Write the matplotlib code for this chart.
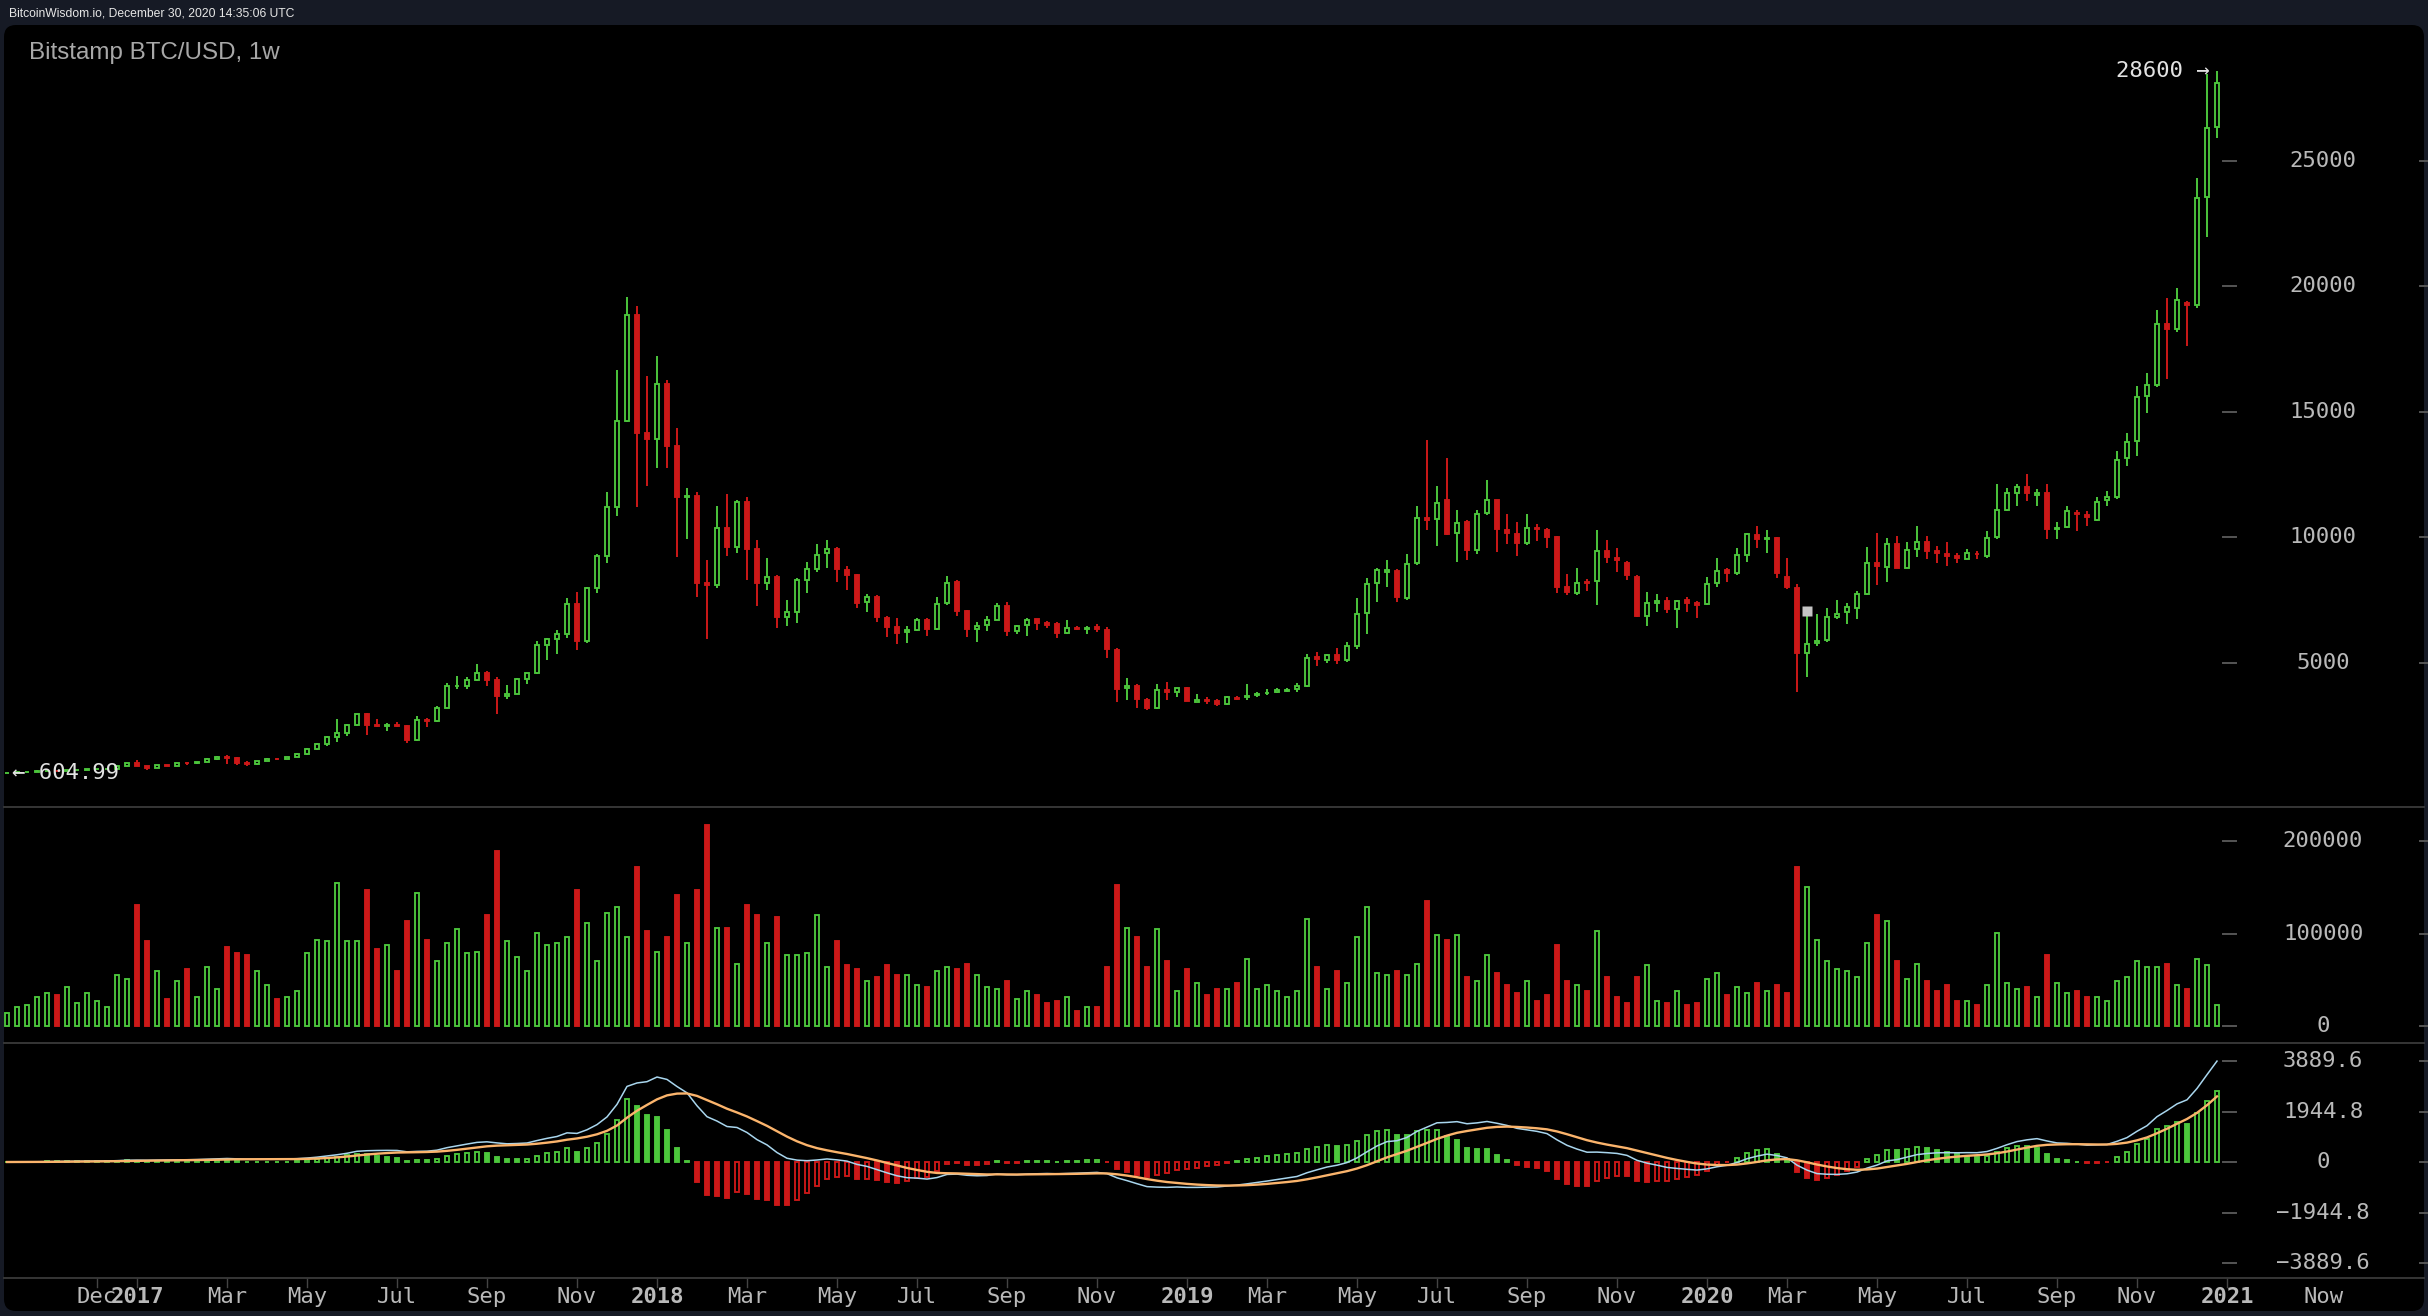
import numpy as np
import matplotlib
matplotlib.use('Agg')
import matplotlib.pyplot as plt
import matplotlib.transforms as mtransforms
from matplotlib.patches import FancyBboxPatch
from matplotlib.lines import Line2D

# ---------------- data (weekly candles, Bitstamp BTC/USD) ----------------
start_date = '2016-10-03'

opens = [
    610, 616, 638, 653, 700, 711, 702, 735, 740, 765,
    776, 790, 895, 998, 903, 820, 920, 912, 1020, 997,
    1052, 1180, 1270, 1230, 1020, 960, 1085, 1180, 1170, 1250,
    1355, 1560, 1770, 2050, 2200, 2510, 2950, 2530, 2500, 2520,
    2505, 1930, 2730, 2700, 3200, 4070, 4090, 4340, 4590, 4330,
    3700, 3780, 4370, 4600, 5700, 5950, 6143, 7339, 5861, 7976,
    9275, 11227, 14653, 18865, 14163, 13924, 16116, 13660, 11610, 11650,
    8187, 8100, 10378, 9622, 11414, 9542, 8173, 8439, 6845, 7020,
    8307, 8745, 9400, 9560, 8700, 8506, 7418, 7642, 6800, 6420,
    6248, 6315, 6713, 6343, 7403, 8215, 7084, 6343, 6514, 6713,
    7271, 6262, 6500, 6740, 6582, 6540, 6184, 6410, 6350, 6447,
    6315, 5518, 4000, 4084, 3526, 3195, 3924, 3857, 4017, 3458,
    3540, 3498, 3367, 3620, 3632, 3712, 3790, 3860, 3870, 3952,
    4084, 5227, 5120, 5319, 5120, 5690, 6979, 8187, 8640, 8678,
    7578, 8970, 10780, 10725, 11494, 10167, 10605, 9502, 10964, 11494,
    10299, 10126, 9768, 10392, 10299, 10007, 8040, 7801, 8210, 8267,
    9474, 9200, 9000, 8439, 6885, 7403, 7483, 7151, 7500, 7380,
    7340, 8200, 8705, 8572, 9302, 10100, 9930, 9968, 8439, 7976,
    5386, 5800, 5920, 6840, 7017, 7200, 7750, 8965, 8835, 9744,
    8803, 9560, 9825, 9450, 9330, 9250, 9159, 9360, 9257, 10020,
    11107, 11756, 12000, 11700, 11756, 10344, 10426, 10993, 10880, 10701,
    11480, 11594, 13152, 13833, 15619, 16057, 18508, 18297, 19352, 19271,
    23572, 26363]

highs = [
    620, 645, 657, 720, 745, 745, 755, 750, 778, 780,
    795, 935, 1000, 1150, 910, 925, 925, 1030, 1065, 1060,
    1200, 1290, 1330, 1260, 1080, 1100, 1210, 1210, 1270, 1420,
    1620, 1830, 2100, 2760, 2550, 2980, 2990, 2750, 2600, 2660,
    2530, 2900, 2800, 3290, 4190, 4480, 4460, 4980, 4700, 4430,
    4120, 4400, 4620, 5860, 6000, 6315, 7578, 7843, 8040, 9329,
    11800, 16673, 19593, 19223, 16434, 17230, 16275, 14363, 11970, 11810,
    9100, 11255, 11733, 11494, 11625, 9900, 9170, 8500, 7510, 8374,
    9012, 9729, 9900, 9620, 8864, 8545, 7749, 7700, 6872, 6780,
    6474, 6805, 6780, 7642, 8466, 8307, 7112, 6622, 6872, 7378,
    7418, 6500, 6805, 6760, 6673, 6622, 6713, 6474, 6474, 6554,
    6420, 5600, 4391, 4150, 3620, 4163, 4255, 4020, 4050, 3765,
    3632, 3560, 3700, 3680, 4163, 3857, 3952, 3990, 3990, 4200,
    5358, 5451, 5358, 5610, 5825, 7578, 8374, 8770, 9103, 8732,
    9342, 11255, 13890, 12052, 13155, 11096, 10710, 11096, 12291, 11500,
    10936, 10618, 10936, 10538, 10379, 10060, 8545, 8770, 8346, 10299,
    9900, 9569, 9050, 8500, 7816, 7736, 7642, 7510, 7642, 7483,
    8439, 9170, 8770, 9569, 10180, 10459, 10299, 10000, 9170, 8160,
    7112, 6939, 7178, 7500, 7374, 7861, 9614, 10182, 9987, 10068,
    9825, 10474, 10068, 9663, 9825, 9370, 9533, 9452, 10263, 12130,
    11967, 12130, 12535, 11918, 12130, 10620, 11237, 11100, 11042, 11594,
    11837, 13428, 14158, 16025, 16544, 19076, 19546, 19952, 19420, 24335,
    28473, 28600]

lows = [
    604.99, 613, 628, 650, 682, 696, 698, 724, 728, 752,
    767, 788, 880, 880, 750, 818, 880, 905, 930, 978,
    1048, 1140, 975, 945, 890, 930, 1080, 1150, 1160, 1240,
    1340, 1540, 1700, 1850, 2100, 2480, 2150, 2470, 2300, 2470,
    1830, 1890, 2460, 2650, 3200, 3950, 3960, 4300, 4100, 2980,
    3560, 3750, 4160, 4560, 5100, 5360, 6010, 5518, 5800, 7776,
    8972, 10870, 14600, 11215, 12064, 12780, 12780, 9223, 9940, 7628,
    5956, 8000, 9275, 9382, 8307, 7283, 7900, 6407, 6490, 6582,
    7776, 8637, 8797, 8240, 7908, 7203, 7044, 6646, 6049, 5745,
    5785, 6275, 6076, 6300, 7300, 6872, 6024, 5849, 6275, 6700,
    6076, 6155, 6076, 6315, 6384, 6010, 6150, 6315, 6155, 6248,
    5187, 3458, 3526, 3220, 3127, 3150, 3526, 3632, 3480, 3440,
    3367, 3287, 3330, 3520, 3540, 3659, 3725, 3791, 3857, 3857,
    4050, 4880, 4988, 4960, 5052, 5546, 6155, 7442, 8015, 7442,
    7500, 8900, 10299, 9669, 10100, 9036, 9103, 9342, 10900, 9436,
    9749, 9275, 9700, 9842, 9593, 7776, 7710, 7700, 7868, 7310,
    8972, 8637, 8307, 6820, 6488, 7044, 6978, 6407, 7044, 6805,
    7300, 8040, 8240, 8500, 9036, 9593, 9370, 8400, 7950, 3857,
    4427, 5690, 5850, 6760, 6550, 6760, 7700, 8120, 8220, 8770,
    8770, 9208, 9127, 8965, 8884, 8965, 9159, 9127, 9200, 9950,
    11042, 11237, 11448, 11237, 9938, 9938, 10380, 10263, 10474, 10650,
    11269, 11550, 12860, 13266, 14970, 16000, 16301, 18200, 17648, 19150,
    21981, 25925]

closes = [
    616, 638, 653, 700, 711, 702, 735, 740, 765, 776,
    790, 895, 998, 903, 820, 920, 912, 1020, 997, 1052,
    1180, 1270, 1230, 1020, 960, 1085, 1180, 1170, 1250, 1355,
    1560, 1770, 2050, 2200, 2510, 2950, 2530, 2500, 2520, 2505,
    1930, 2730, 2700, 3200, 4070, 4090, 4340, 4590, 4330, 3700,
    3780, 4370, 4600, 5700, 5950, 6143, 7339, 5861, 7976, 9275,
    11227, 14653, 18865, 14163, 13924, 16116, 13660, 11610, 11650, 8187,
    8100, 10378, 9622, 11414, 9542, 8173, 8439, 6845, 7020, 8307,
    8745, 9302, 9560, 8732, 8506, 7378, 7642, 6820, 6447, 6184,
    6315, 6713, 6343, 7339, 8200, 7084, 6343, 6474, 6713, 7283,
    6262, 6474, 6713, 6582, 6500, 6200, 6384, 6370, 6390, 6360,
    5546, 3952, 4084, 3554, 3195, 3924, 3857, 3990, 3498, 3526,
    3500, 3367, 3632, 3560, 3685, 3765, 3820, 3910, 3930, 4084,
    5187, 5147, 5319, 5120, 5690, 6952, 8160, 8705, 8690, 7617,
    8944, 10765, 10700, 11387, 10139, 10590, 9502, 10925, 11494, 10326,
    10167, 9768, 10366, 10339, 10007, 8015, 7841, 8200, 8170, 9462,
    9209, 9100, 8497, 6885, 7403, 7483, 7151, 7470, 7400, 7330,
    8147, 8678, 8572, 9302, 10126, 9928, 9968, 8572, 8015, 5386,
    5745, 5880, 6840, 6936, 7212, 7750, 8965, 8880, 9744, 8803,
    9500, 9825, 9452, 9400, 9270, 9200, 9370, 9330, 9987, 11107,
    11756, 12000, 11756, 11790, 10344, 10393, 11042, 10945, 10831, 11432,
    11594, 13103, 13801, 15586, 16057, 18508, 18300, 19465, 19250, 23523,
    26298, 28116]

volumes_k = [
    14.4, 20.9, 23, 31.7, 36, 33.9, 42.5, 25, 36, 27.4,
    20.9, 55.5, 51, 131, 92, 60, 29.5, 49, 62, 31.7,
    64, 40, 86, 79, 77, 60, 44.7, 29.5, 31.7, 38,
    79, 94, 92, 155, 92, 92, 148, 84, 88, 60,
    114, 144, 94, 71, 90, 105, 79, 81, 120, 190,
    92, 75, 60, 101, 88, 90, 97, 148, 112, 71,
    122.5, 129, 97, 172, 103, 81, 97, 142, 90, 148,
    218, 107, 107, 68, 131, 120, 90, 118, 77, 77,
    79, 120, 64, 92, 66, 62, 49, 53, 66, 55.5,
    55.5, 44.7, 42.5, 60, 64, 62, 68, 55.5, 42.5, 40,
    49, 29.5, 38, 34, 25, 27.4, 31.7, 16.6, 20.9, 20.9,
    64, 153, 107, 97, 64, 105, 71, 38, 62, 47,
    34, 40, 40, 47, 73, 40, 44.7, 38, 31.7, 38,
    116, 64, 40, 60, 47, 97, 129, 58, 55.5, 60,
    55.5, 68, 135.5, 99, 94, 99, 53, 49, 77, 58,
    44.7, 36, 49, 27.4, 34, 88, 49, 44.7, 38, 103,
    53, 31.7, 25, 53, 66, 27.4, 25, 38, 23, 25,
    51, 58, 34, 42.5, 36, 47, 38, 44.7, 36, 172,
    151, 94, 71, 62, 60, 53, 90, 120, 114, 71,
    51, 68, 49, 38, 44.7, 27.4, 27.4, 23, 44.7, 101,
    47, 40, 42.5, 31.7, 77, 47, 36, 38, 31.7, 31.7,
    27.4, 49, 53, 71, 64, 64, 68, 44.7, 40, 73,
    66, 23]

price_ticks = [5000, 10000, 15000, 20000, 25000]
volume_ticks = [0, 100000, 200000]
macd_ticks = [3889.6, 1944.8, 0, -1944.8, -3889.6]
macd_tick_labels = ['3889.6', '1944.8', '0', '\u22121944.8', '\u22123889.6']

tick_months = ['2016-12', '2017-01', '2017-03', '2017-05', '2017-07', '2017-09', '2017-11',
               '2018-01', '2018-03', '2018-05', '2018-07', '2018-09', '2018-11',
               '2019-01', '2019-03', '2019-05', '2019-07', '2019-09', '2019-11',
               '2020-01', '2020-03', '2020-05', '2020-07', '2020-09', '2020-11', '2021-01']
tick_labels = ['Dec', '2017', 'Mar', 'May', 'Jul', 'Sep', 'Nov',
               '2018', 'Mar', 'May', 'Jul', 'Sep', 'Nov',
               '2019', 'Mar', 'May', 'Jul', 'Sep', 'Nov',
               '2020', 'Mar', 'May', 'Jul', 'Sep', 'Nov', '2021']

marker_week = 180
marker_price = 7070

header_text = 'BitcoinWisdom.io, December 30, 2020 14:35:06 UTC'
title_text = 'Bitstamp BTC/USD, 1w'

# ---------------- styling ----------------
GREEN = '#4cc63c'
RED = '#cc1818'
BG_OUT = '#161a25'
TXT = '#b9b9b9'
TXT_HI = '#e2e2e2'
SEP = '#3a3a3a'
TICKC = '#555555'
MONO = 'DejaVu Sans Mono'

W, H = 2428, 1316
fig = plt.figure(figsize=(W / 100, H / 100), dpi=100, facecolor=BG_OUT)


def fx(px):
    return px / W


def fy(py):
    return 1 - py / H


panel = FancyBboxPatch((4 / 100, (H - 1311) / 100), (2424 - 4) / 100, (1311 - 25) / 100,
                       boxstyle='round,pad=0,rounding_size=0.12',
                       transform=fig.dpi_scale_trans, facecolor='black',
                       edgecolor='none', zorder=0)
fig.add_artist(panel)

L_PX, R_PX = 4, 2236
ax_p = fig.add_axes([fx(L_PX), fy(807), (R_PX - L_PX) / W, (807 - 25) / H])
ax_v = fig.add_axes([fx(L_PX), fy(1043), (R_PX - L_PX) / W, (1043 - 807) / H], sharex=ax_p)
ax_m = fig.add_axes([fx(L_PX), fy(1278), (R_PX - L_PX) / W, (1278 - 1043) / H], sharex=ax_p)
for a in (ax_p, ax_v, ax_m):
    a.set_axis_off()

O = np.array(opens, float)
Hh = np.array(highs, float)
Lo = np.array(lows, float)
C = np.array(closes, float)
V = np.array(volumes_k, float) * 1000
n = len(C)
start = np.datetime64(start_date)
xs = np.arange(n) * 7.0  # days since first week

up = C >= O
cols = np.where(up, GREEN, RED)
faces = np.where(up, 'black', RED)

BW = 3.1
LW = 1.35
# candles
ax_p.vlines(xs, Lo, Hh, colors=cols, linewidth=1.4, zorder=2)
ax_p.bar(xs, np.abs(C - O), bottom=np.minimum(O, C), width=BW, color=faces,
         edgecolor=cols, linewidth=LW, zorder=3)

# volume
ax_v.bar(xs, V, width=BW, color=faces, edgecolor=cols, linewidth=LW, zorder=3)


# MACD (12, 26, 9), histogram = 2 * (DIF - DEA)
def ema(v, span):
    a = 2.0 / (span + 1)
    out = np.empty_like(v)
    out[0] = v[0]
    for k in range(1, len(v)):
        out[k] = a * v[k] + (1 - a) * out[k - 1]
    return out


dif = ema(C, 12) - ema(C, 26)
dea = ema(dif, 9)
hist = 2 * (dif - dea)
hcols = np.where(hist >= 0, GREEN, RED)
rising = np.concatenate([[True], hist[1:] > hist[:-1]])
hfaces = np.where(rising, 'black', hcols)
ax_m.bar(xs, hist, width=BW, color=hfaces, edgecolor=hcols, linewidth=LW, zorder=3)
ax_m.plot(xs, dif, color='#a9d6ee', lw=1.1, zorder=4)
ax_m.plot(xs, dea, color='#fbb46c', lw=1.7, zorder=5)

# scales
x_left = (L_PX - 7) * 0.7
x_right = (R_PX - 7) * 0.7
ax_p.set_xlim(x_left, x_right)
ax_p.set_ylim(-737, 30418)
ax_v.set_ylim(-17838, 237297)
ax_m.set_ylim(-4467, 4583)

# special price labels
ax_p.annotate('\u2190 604.99', xy=(xs[int(np.argmin(Lo))], Lo.min()), xytext=(5, 0),
              textcoords='offset pixels', ha='left', va='center', color=TXT_HI,
              family=MONO, fontsize=16, zorder=6)
imax = int(np.argmax(Hh))
ax_p.annotate('%d \u2192' % Hh.max(), xy=(xs[imax], Hh.max()), xytext=(-7, 0),
              textcoords='offset pixels', ha='right', va='center', color=TXT_HI,
              family=MONO, fontsize=16, zorder=6)
ax_p.plot([xs[marker_week]], [marker_price], marker='s', ms=7.2, color='#c4c4c4',
          mec='none', zorder=6)


# right axis labels
def right_axis(ax, vals, labels):
    tr = mtransforms.blended_transform_factory(fig.transFigure, ax.transData)
    for v, s in zip(vals, labels):
        ax.text(fx(2323), v, s, transform=tr, ha='center', va='center', color=TXT,
                family=MONO, fontsize=16, clip_on=False)
        ax.add_line(Line2D([fx(2223), fx(2236)], [v, v], transform=tr, color=TICKC,
                           lw=1.4, clip_on=False))
        ax.add_line(Line2D([fx(2420), fx(2428)], [v, v], transform=tr, color=TICKC,
                           lw=1.4, clip_on=False))


right_axis(ax_p, price_ticks, [str(t) for t in price_ticks])
right_axis(ax_v, volume_ticks, [str(t) for t in volume_ticks])
right_axis(ax_m, macd_ticks, macd_tick_labels)

# separators
for py in (807, 1043, 1278):
    fig.add_artist(Line2D([fx(4), fx(2424)], [fy(py), fy(py)], transform=fig.transFigure,
                          color=SEP, lw=1.3))

# x axis ticks / labels
trx = mtransforms.blended_transform_factory(ax_m.transData, fig.transFigure)
for m, lab in zip(tick_months, tick_labels):
    md = np.datetime64(m + '-01')
    days = (md - start).astype(int)
    xt = np.ceil(days / 7.0) * 7.0
    fig.add_artist(Line2D([xt, xt], [fy(1279), fy(1287)], transform=trx, color='#444444', lw=1.0))
    bold = lab.isdigit()
    fig.text(xt, fy(1297), lab, transform=trx, ha='center', va='center', color=TXT,
             family=MONO, fontsize=16, fontweight='bold' if bold else 'normal')
fig.text(fx(2324), fy(1297), 'Now', ha='center', va='center', color=TXT, family=MONO, fontsize=16)

# header and title
fig.text(fx(9), fy(13), header_text, ha='left', va='center', color='#e6e6e6',
         family='Liberation Sans', fontsize=8.7)
fig.text(fx(29), fy(53), title_text, ha='left', va='center', color='#a8a8a8',
         family='Liberation Sans', fontsize=17.4)

fig.savefig('out.png', dpi=100, facecolor=BG_OUT)
